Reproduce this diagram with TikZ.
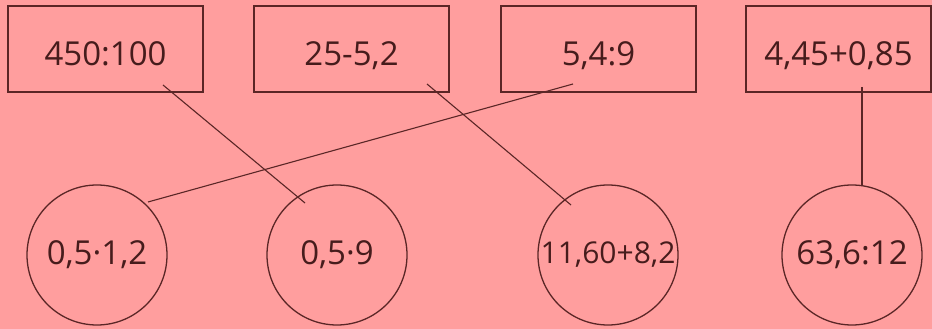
\documentclass[tikz,border=0pt]{standalone}
\usepackage{fontspec}
\setmainfont{Open Sans}
\usetikzlibrary{calc}
\definecolor{bg}{RGB}{255,158,158}
\definecolor{ink}{RGB}{90,38,38}
\definecolor{txt}{RGB}{70,28,28}
\begin{document}
\begin{tikzpicture}[x=1pt,y=1pt,
  boxn/.style={draw=ink,line width=1.3pt,minimum width=195pt,minimum height=86pt,inner sep=0pt,text height=34pt,text depth=0pt,font=\fontsize{33}{36}\selectfont,text=txt},
  circn/.style={draw=ink,line width=1.3pt,circle,minimum size=140pt,inner sep=0pt,font=\fontsize{33}{36}\selectfont,text=txt},
  conn/.style={draw=ink,line width=1.1pt}]
\fill[bg] (0,0) rectangle (932,329);
\useasboundingbox (0,0) rectangle (932,329);
\node[boxn] (b1) at (105.5,280) {450:100};
\node[boxn] (b2) at (351.5,280) {25-5,2};
\node[boxn] (b3) at (598.5,280) {5,4:9};
\node[boxn,minimum width=185pt] (b4) at (838.5,280) {4,45+0,85};
\node[circn] (c1) at (97,74) {0,5·1,2};
\node[circn] (c2) at (337,74) {0,5·9};
\node[circn] (c3) at (608,74) {\fontsize{30}{34}\selectfont 11,60+8,2};
\node[circn] (c4) at (852,74) {63,6:12};
\draw[conn] ($(b1.center)+(57.5,-36)$) -- ($(c2.center)+(-32,52)$);
\draw[conn] ($(b2.center)+(75.5,-35)$) -- ($(c3.center)+(-37,50)$);
\draw[conn] ($(b3.center)+(-25.5,-35)$) -- ($(c1.center)+(51,53)$);
\draw[conn] ($(b4.center)+(23.5,-38)$) -- ($(c4.center)+(10,69.3)$);
\end{tikzpicture}
\end{document}
